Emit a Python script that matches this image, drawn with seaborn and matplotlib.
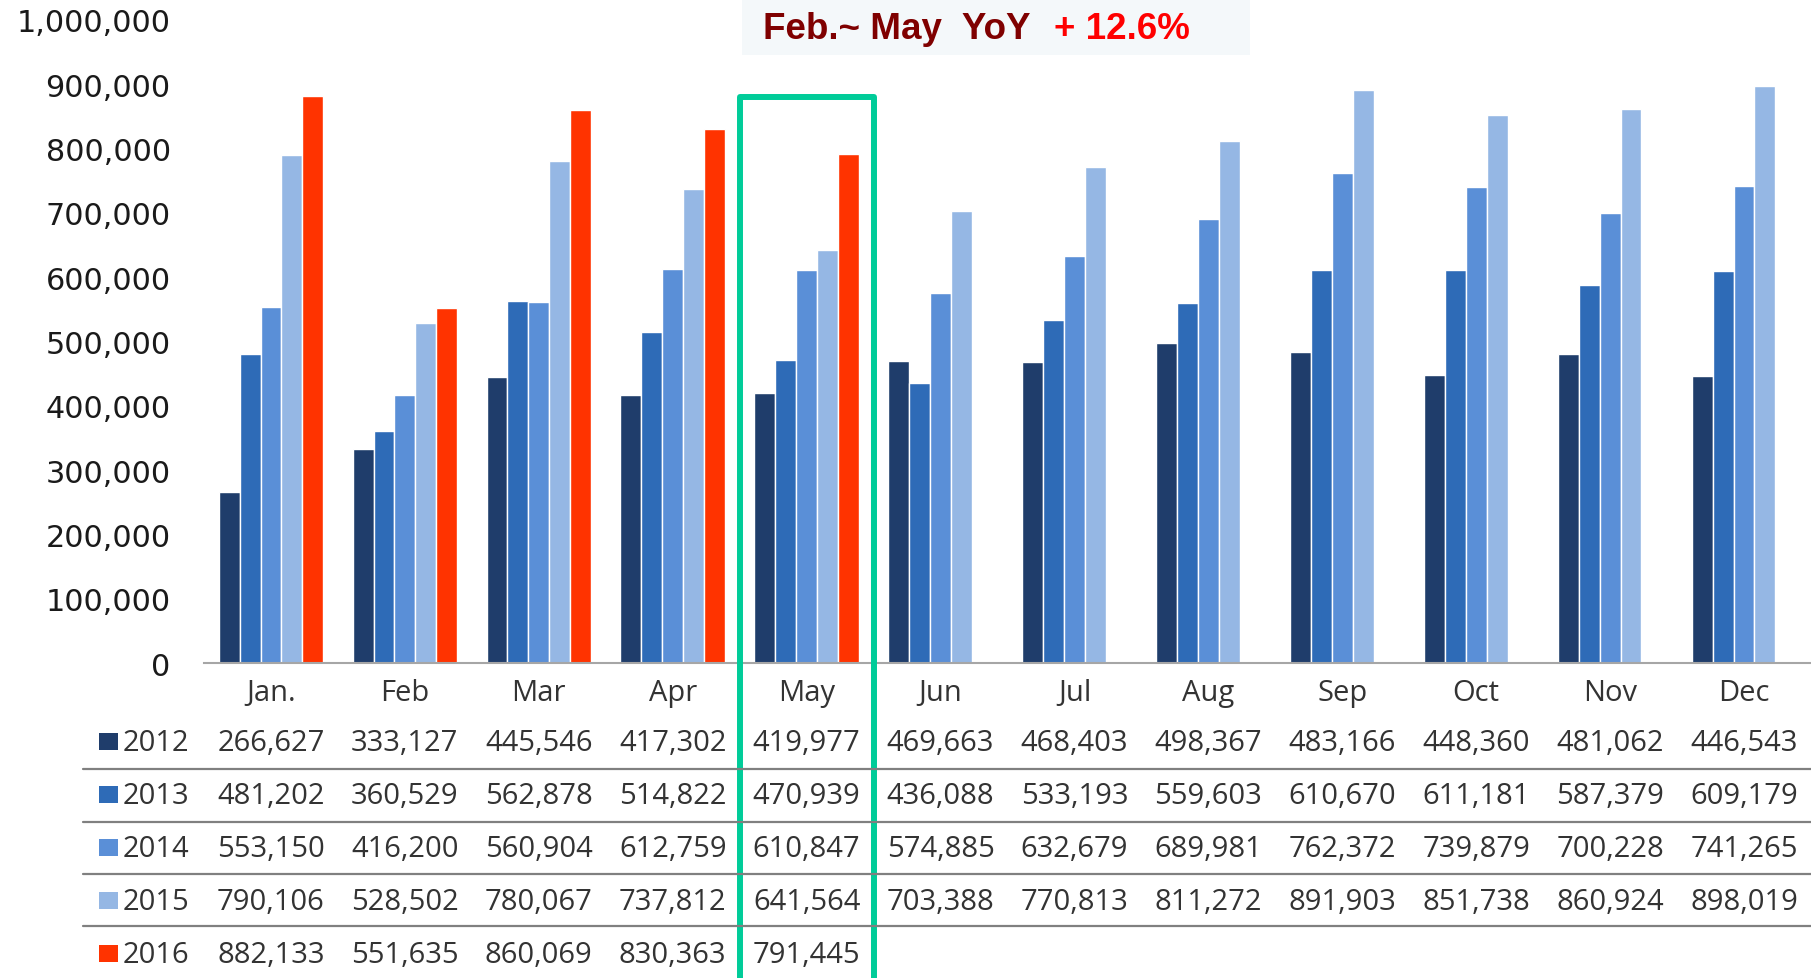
import pandas as pd
import matplotlib
matplotlib.use('Agg')
import matplotlib.pyplot as plt
import seaborn as sns
from matplotlib.patches import Rectangle
from matplotlib.lines import Line2D
from matplotlib.ticker import FuncFormatter
from matplotlib.transforms import blended_transform_factory

# ********** Data **********
months = ['Jan.', 'Feb', 'Mar', 'Apr', 'May', 'Jun', 'Jul', 'Aug', 'Sep', 'Oct', 'Nov', 'Dec']
years = ['2012', '2013', '2014', '2015', '2016']
sales_2012 = [266627, 333127, 445546, 417302, 419977, 469663, 468403, 498367, 483166, 448360, 481062, 446543]
sales_2013 = [481202, 360529, 562878, 514822, 470939, 436088, 533193, 559603, 610670, 611181, 587379, 609179]
sales_2014 = [553150, 416200, 560904, 612759, 610847, 574885, 632679, 689981, 762372, 739879, 700228, 741265]
sales_2015 = [790106, 528502, 780067, 737812, 641564, 703388, 770813, 811272, 891903, 851738, 860924, 898019]
sales_2016 = [882133, 551635, 860069, 830363, 791445]
colors = ['#1F3D6B', '#2E6BB7', '#5A8FD7', '#95B7E4', '#FF3300']
headline = 'Feb.~ May  YoY'
headline_pct = '+ 12.6%'

series = [sales_2012, sales_2013, sales_2014, sales_2015, sales_2016]
rows = []
for year, vals in zip(years, series):
    for m, v in zip(months, vals):
        rows.append((m, year, v))
df = pd.DataFrame(rows, columns=['month', 'year', 'sales'])

sns.set_style('white')
plt.rcParams['font.family'] = ['DejaVu Sans']

W, H = 1811, 979
fig = plt.figure(figsize=(W / 100, H / 100), dpi=100)
ax = fig.add_axes([204 / W, 315 / H, 1 - 204 / W, 643 / H])
ax.patch.set_alpha(0)

sns.barplot(data=df, x='month', y='sales', hue='year', order=months, hue_order=years,
            palette=colors, width=0.78, saturation=1, errorbar=None, legend=False, ax=ax)

ax.set_xlim(-0.5, 11.5)
ax.set_ylim(0, 1000000)
ax.set_yticks(range(0, 1000001, 100000))
ax.yaxis.set_major_formatter(FuncFormatter(lambda v, p: f'{int(v):,}'))
ax.set_xlabel('')
ax.set_ylabel('')
for s in ['top', 'right', 'left']:
    ax.spines[s].set_visible(False)
ax.spines['bottom'].set_color('#A6A6A6')
ax.spines['bottom'].set_linewidth(1.5)
ax.tick_params(axis='y', length=0, pad=24, labelsize=21.8, labelcolor='#1A1A1A')
ax.tick_params(axis='x', length=0, pad=11, labelsize=21, labelcolor='#333333')
for lbl in ax.get_xticklabels():
    lbl.set_fontfamily('Open Sans')

# data table under the chart
trans = blended_transform_factory(ax.transData, fig.transFigure)
baselines = [751, 804, 857, 910, 963]
for i, (year, vals) in enumerate(zip(years, series)):
    yb = 1 - baselines[i] / H
    fig.add_artist(Rectangle((99 / W, yb), 19 / W, 17 / H, transform=fig.transFigure,
                             facecolor=colors[i], edgecolor='none'))
    fig.text(123 / W, yb, year, fontsize=21, family='Open Sans', color='#333333', va='baseline')
    for j, v in enumerate(vals):
        ax.text(j, yb, f'{v:,}', transform=trans, ha='center', va='baseline',
                fontsize=21, family='Open Sans', color='#333333', clip_on=False)

for yl in [770, 823, 875, 927]:
    fig.add_artist(Line2D([83 / W, 1], [1 - yl / H, 1 - yl / H], transform=fig.transFigure,
                          color='#808080', lw=1.6))

# highlight May column
ax.add_patch(Rectangle((3.5, -0.05), 1.0, 1 - 98 / H + 0.05, transform=trans, fill=False,
                       edgecolor='#00CC99', lw=4.3, joinstyle='round', clip_on=False, zorder=5))

# headline box
fig.add_artist(Rectangle((742 / W, 1 - 56 / H), (1250 - 742) / W, 56 / H + 0.01,
                         transform=fig.transFigure, facecolor='#F4F8FA', edgecolor='none', zorder=2))
fig.text(763 / W, 1 - 39 / H, headline, fontsize=26.5, fontweight='bold', family='Liberation Sans',
         color='#7F0000', va='baseline', zorder=3)
fig.text(1054 / W, 1 - 39 / H, headline_pct, fontsize=26.5, fontweight='bold', family='Liberation Sans',
         color='#FF0000', va='baseline', zorder=3)

plt.savefig('out.png', dpi=100)
plt.close(fig)
